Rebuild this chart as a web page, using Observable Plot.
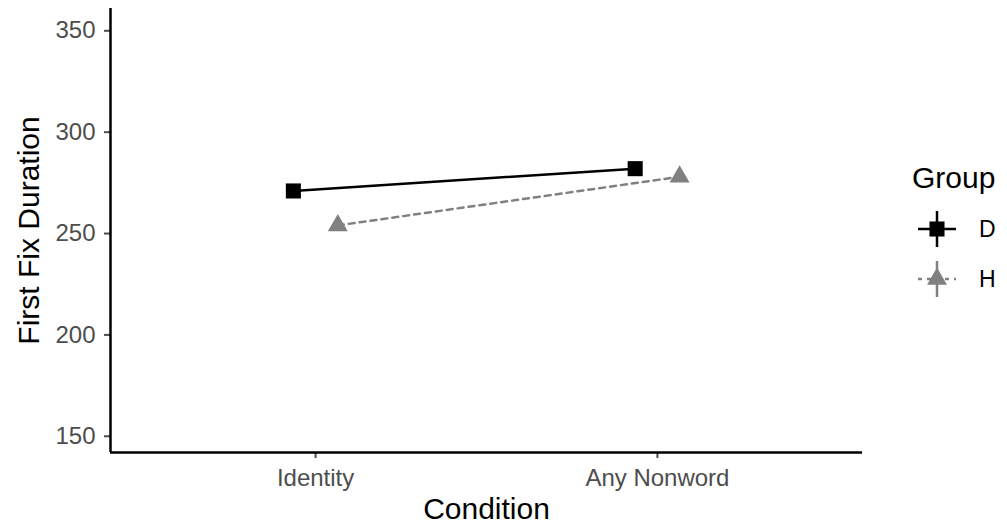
<!DOCTYPE html>
<html><head><meta charset="utf-8">
<script src="https://cdn.jsdelivr.net/npm/d3@7"></script>
<script src="https://cdn.jsdelivr.net/npm/@observablehq/plot@0.6"></script>
<style>
body{margin:0;background:#fff;}
#wrap{position:relative;width:1007px;height:531px;}
#legend{position:absolute;left:0;top:0;pointer-events:none;}
</style></head><body><div id="wrap"></div>
<script>
const conditions = ["Identity", "Any Nonword"];
const groups = ["D", "H"];
const meanD = [271, 282];
const meanH = [254, 278];
const yTicks = [150, 200, 250, 300, 350];
const yDomain = [142, 361];
const xDomain = [0.4, 2.6];
const dodge = 0.065;

const rows = (g, vals) => vals.map((v, i) => ({
  group: g, condition: conditions[i],
  pos: i + 1 + (g === "D" ? -dodge : dodge), value: v
}));
const rowsD = rows("D", meanD);
const rowsH = rows("H", meanH);

const FONT = "'Liberation Sans', Arial, Helvetica, sans-serif";
const GREY = "#808080";

const chart = Plot.plot({
  width: 1007, height: 531,
  marginLeft: 110, marginRight: 145, marginTop: 8, marginBottom: 79,
  style: {fontFamily: FONT, background: "white", overflow: "visible"},
  x: {domain: xDomain},
  y: {domain: yDomain},
  marks: [
    Plot.axisX({ticks: [1, 2], tickFormat: d => conditions[d - 1], tickSize: 6, tickPadding: 10,
      fontSize: 24, color: "#4d4d4d", label: null, strokeWidth: 2}),
    Plot.axisY({ticks: yTicks, tickSize: 6, tickPadding: 9, fontSize: 24, color: "#4d4d4d",
      label: null, strokeWidth: 2}),
    Plot.ruleY([yDomain[0]], {stroke: "black", strokeWidth: 2.5}),
    Plot.ruleX([xDomain[0]], {stroke: "black", strokeWidth: 2.5}),
    Plot.text(["Condition"], {frameAnchor: "bottom", dy: 66, fontSize: 30, fill: "black"}),
    Plot.text(["First Fix Duration"], {frameAnchor: "left", textAnchor: "middle", rotate: -90, dx: -81,
      fontSize: 30, fill: "black"}),
    Plot.line(rowsH, {x: "pos", y: "value", stroke: GREY, strokeWidth: 2.5, strokeDasharray: "6,5"}),
    Plot.line(rowsD, {x: "pos", y: "value", stroke: "black", strokeWidth: 2.5}),
    Plot.dot(rowsH, {x: "pos", y: "value", symbol: "triangle", r: 7.4, fill: GREY, stroke: "none"}),
    Plot.dot(rowsD, {x: "pos", y: "value", symbol: "square", r: 8.5, fill: "black", stroke: "none"})
  ]
});
const wrap = document.getElementById("wrap");
wrap.appendChild(chart);

// legend
const lg = d3.select(wrap).append("svg").attr("id", "legend").attr("width", 1007).attr("height", 531)
  .style("font-family", FONT);
lg.append("text").attr("x", 912).attr("y", 188).attr("font-size", 30).attr("fill", "black").text("Group");
const keys = [
  {g: groups[0], cy: 229, color: "black", dash: null, sym: d3.symbolSquare, size: 8.5 * 8.5 * Math.PI},
  {g: groups[1], cy: 279, color: GREY, dash: "4,5", sym: d3.symbolTriangle, size: 7.4 * 7.4 * Math.PI}
];
keys.forEach(k => {
  const cx = 937;
  lg.append("line").attr("x1", cx - 19).attr("x2", cx + 19).attr("y1", k.cy).attr("y2", k.cy)
    .attr("stroke", k.color).attr("stroke-width", 2.5).attr("stroke-dasharray", k.dash);
  lg.append("line").attr("x1", cx).attr("x2", cx).attr("y1", k.cy - 18).attr("y2", k.cy + 18)
    .attr("stroke", k.color).attr("stroke-width", 2.5);
  lg.append("path").attr("d", d3.symbol(k.sym, k.size)()).attr("transform", `translate(${cx},${k.cy})`)
    .attr("fill", k.color);
  lg.append("text").attr("x", 979).attr("y", k.cy).attr("dy", "0.36em").attr("font-size", 23)
    .attr("fill", "black").text(k.g);
});
</script></body></html>
